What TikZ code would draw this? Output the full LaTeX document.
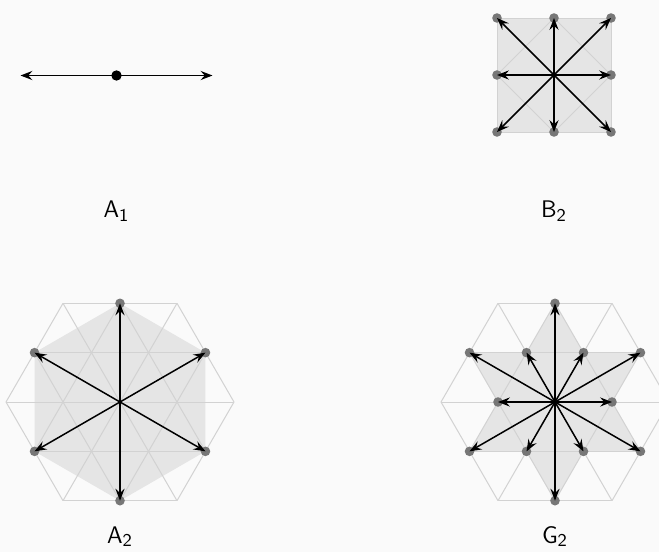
\documentclass[tikz,border=0pt]{standalone}
\usepackage{tikz}
\usetikzlibrary{arrows.meta,positioning,calc}
\definecolor{bgcol}{HTML}{FAFAFA}
\definecolor{shadegray}{HTML}{E5E5E5}
\definecolor{gridgray}{HTML}{D2D2D2}
\definecolor{dotgray}{HTML}{777777}

\begin{document}
\begin{tikzpicture}[
    x=0.5pt, y=-0.5pt,
    >={Stealth[length=6pt, width=4.6pt, inset=2.2pt]},
    rootarrow/.style={->, line width=0.75pt},
    rootdot/.style={circle, fill=dotgray, inner sep=0pt, minimum size=4.8pt},
    gridline/.style={draw=gridgray, line width=0.5pt},
    shade/.style={fill=shadegray},
    rsname/.style={font=\sffamily\fontsize{13}{15}\selectfont, anchor=base, inner sep=0pt}
]
    \useasboundingbox (0,0) rectangle (659,552);
    \fill[bgcol] (0,0) rectangle (659,552);

    % A1
    \coordinate (a1) at (116.5,75.5);
    \coordinate (a1l) at (20.5,75.5);
    \coordinate (a1r) at (212.5,75.5);
    \draw[rootarrow] (a1) -- (a1l);
    \draw[rootarrow] (a1) -- (a1r);
    \node[circle, fill=black, inner sep=0pt, minimum size=5.2pt] (a1dot) at (a1) {};
    \node[rsname] (a1name) at (116.5,217.5) {$\mathsf{A}_\mathsf{1}$};

    % B2
    \coordinate (b2) at (554,75);
    \fill[shade] ($(b2)+(-57,-57)$) rectangle ($(b2)+(57,57)$);
    \draw[gridline] ($(b2)+(-57,-57)$) rectangle ($(b2)+(57,57)$);
    \draw[gridline] ($(b2)+(57,0)$) -- ($(b2)+(0,57)$) -- ($(b2)+(-57,0)$) -- ($(b2)+(0,-57)$) -- cycle;
    \foreach \i in {0,...,7} {
        \pgfmathsetmacro\len{mod(\i,2)==0 ? 57 : 80.61}
        \node[rootdot] (b2r\i) at ($(b2)+(\i*45:\len)$) {};
    }
    \foreach \i in {0,...,7}
        \draw[rootarrow] (b2) -- (b2r\i.center);
    \node[rsname] (b2name) at (554,217.5) {$\mathsf{B}_\mathsf{2}$};

    % A2 and G2: shading first, then the triangular grid
    \coordinate (a2) at (120,402);
    \coordinate (g2) at (555,402);
    \fill[shade] ($(a2)+(30:98.7)$) -- ($(a2)+(90:98.7)$) -- ($(a2)+(150:98.7)$)
        -- ($(a2)+(210:98.7)$) -- ($(a2)+(270:98.7)$) -- ($(a2)+(330:98.7)$) -- cycle;
    \fill[shade] ($(g2)+(90:98.7)$) -- ($(g2)+(210:98.7)$) -- ($(g2)+(330:98.7)$) -- cycle;
    \fill[shade] ($(g2)+(30:98.7)$) -- ($(g2)+(150:98.7)$) -- ($(g2)+(270:98.7)$) -- cycle;
    \foreach \c in {a2,g2}
        \foreach \rot in {0,60,120} {
            \begin{scope}[shift={(\c)}, rotate=\rot]
                \foreach \k in {-2,...,2} {
                    \pgfmathsetmacro\w{114-28.5*abs(\k)}
                    \draw[gridline] (-\w,\k*49.36) -- (\w,\k*49.36);
                }
            \end{scope}
        }

    % A2 roots
    \foreach \i in {0,...,5}
        \node[rootdot] (a2r\i) at ($(a2)+(30+\i*60:98.7)$) {};
    \foreach \i in {0,...,5}
        \draw[rootarrow] (a2) -- (a2r\i.center);
    \node[rsname] (a2name) at (120,543) {$\mathsf{A}_\mathsf{2}$};

    % G2 roots
    \foreach \i in {0,...,5} {
        \node[rootdot] (g2l\i) at ($(g2)+(30+\i*60:98.7)$) {};
        \node[rootdot] (g2s\i) at ($(g2)+(\i*60:57)$) {};
    }
    \foreach \i in {0,...,5} {
        \draw[rootarrow] (g2) -- (g2l\i.center);
        \draw[rootarrow] (g2) -- (g2s\i.center);
    }
    \node[rsname] (g2name) at (555,543) {$\mathsf{G}_\mathsf{2}$};
\end{tikzpicture}
\end{document}
